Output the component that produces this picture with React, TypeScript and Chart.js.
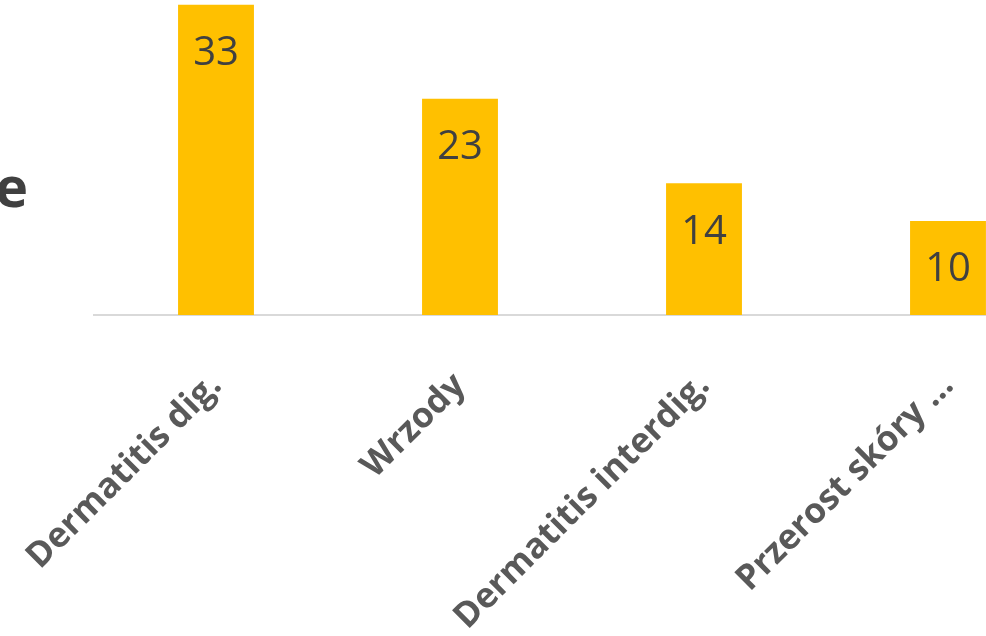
import React, { useEffect, useRef } from "react";
import { Chart, registerables } from "chart.js";

Chart.register(...registerables);

const categories = ["Dermatitis dig.", "Wrzody", "Dermatitis interdig.", "Przerost skóry ..."];
const values = [33, 23, 14, 10];
const titleText = "re";

const valueLabelPlugin = {
  id: "valueLabels",
  afterDatasetsDraw(chart: any) {
    const ctx = chart.ctx;
    const meta = chart.getDatasetMeta(0);
    ctx.save();
    ctx.font = "40px 'Open Sans'";
    ctx.fillStyle = "#404040";
    ctx.textAlign = "center";
    ctx.textBaseline = "middle";
    meta.data.forEach((bar: any, i: number) => {
      ctx.fillText(String(values[i]), bar.x, bar.y + 49);
    });
    ctx.restore();
  },
};

export default function App() {
  const ref = useRef<HTMLCanvasElement>(null);
  useEffect(() => {
    if (!ref.current) return;
    const chart = new Chart(ref.current, {
      type: "bar",
      data: {
        labels: categories,
        datasets: [
          {
            data: values,
            backgroundColor: "#FFC000",
            categoryPercentage: 1,
            barPercentage: 0.311,
          },
        ],
      },
      options: {
        responsive: false,
        animation: false,
        layout: { padding: { left: 94, right: 30, top: 0, bottom: 0 } },
        plugins: { legend: { display: false }, tooltip: { enabled: false } },
        scales: {
          y: { display: false, min: 0, max: 33.5 },
          x: {
            grid: { display: false },
            border: { display: true, color: "#d9d9d9", width: 2 },
            ticks: {
              color: "#595959",
              font: { family: "'Open Sans'", size: 35, weight: "bold" },
              minRotation: 45,
              maxRotation: 45,
              padding: 42,
              autoSkip: false,
            },
            afterFit: (scale: any) => {
              scale.height = 321;
              scale.paddingLeft = 0;
              scale.paddingRight = 0;
            },
          },
        },
      },
      plugins: [valueLabelPlugin],
    });
    return () => chart.destroy();
  }, []);
  return (
    <div style={{ position: "fixed", left: 0, top: 0, width: 986, height: 636, overflow: "hidden", background: "#fff" }}>
      <span
        style={{
          position: "absolute",
          right: 958,
          top: 145,
          fontFamily: "'Open Sans'",
          fontWeight: "bold",
          fontSize: 56,
          color: "#404040",
          whiteSpace: "nowrap",
          lineHeight: "80px",
        }}
      >
        {titleText}
      </span>
      <canvas ref={ref} width={1100} height={636} style={{ position: "absolute", left: 0, top: 0 }} />
    </div>
  );
}
